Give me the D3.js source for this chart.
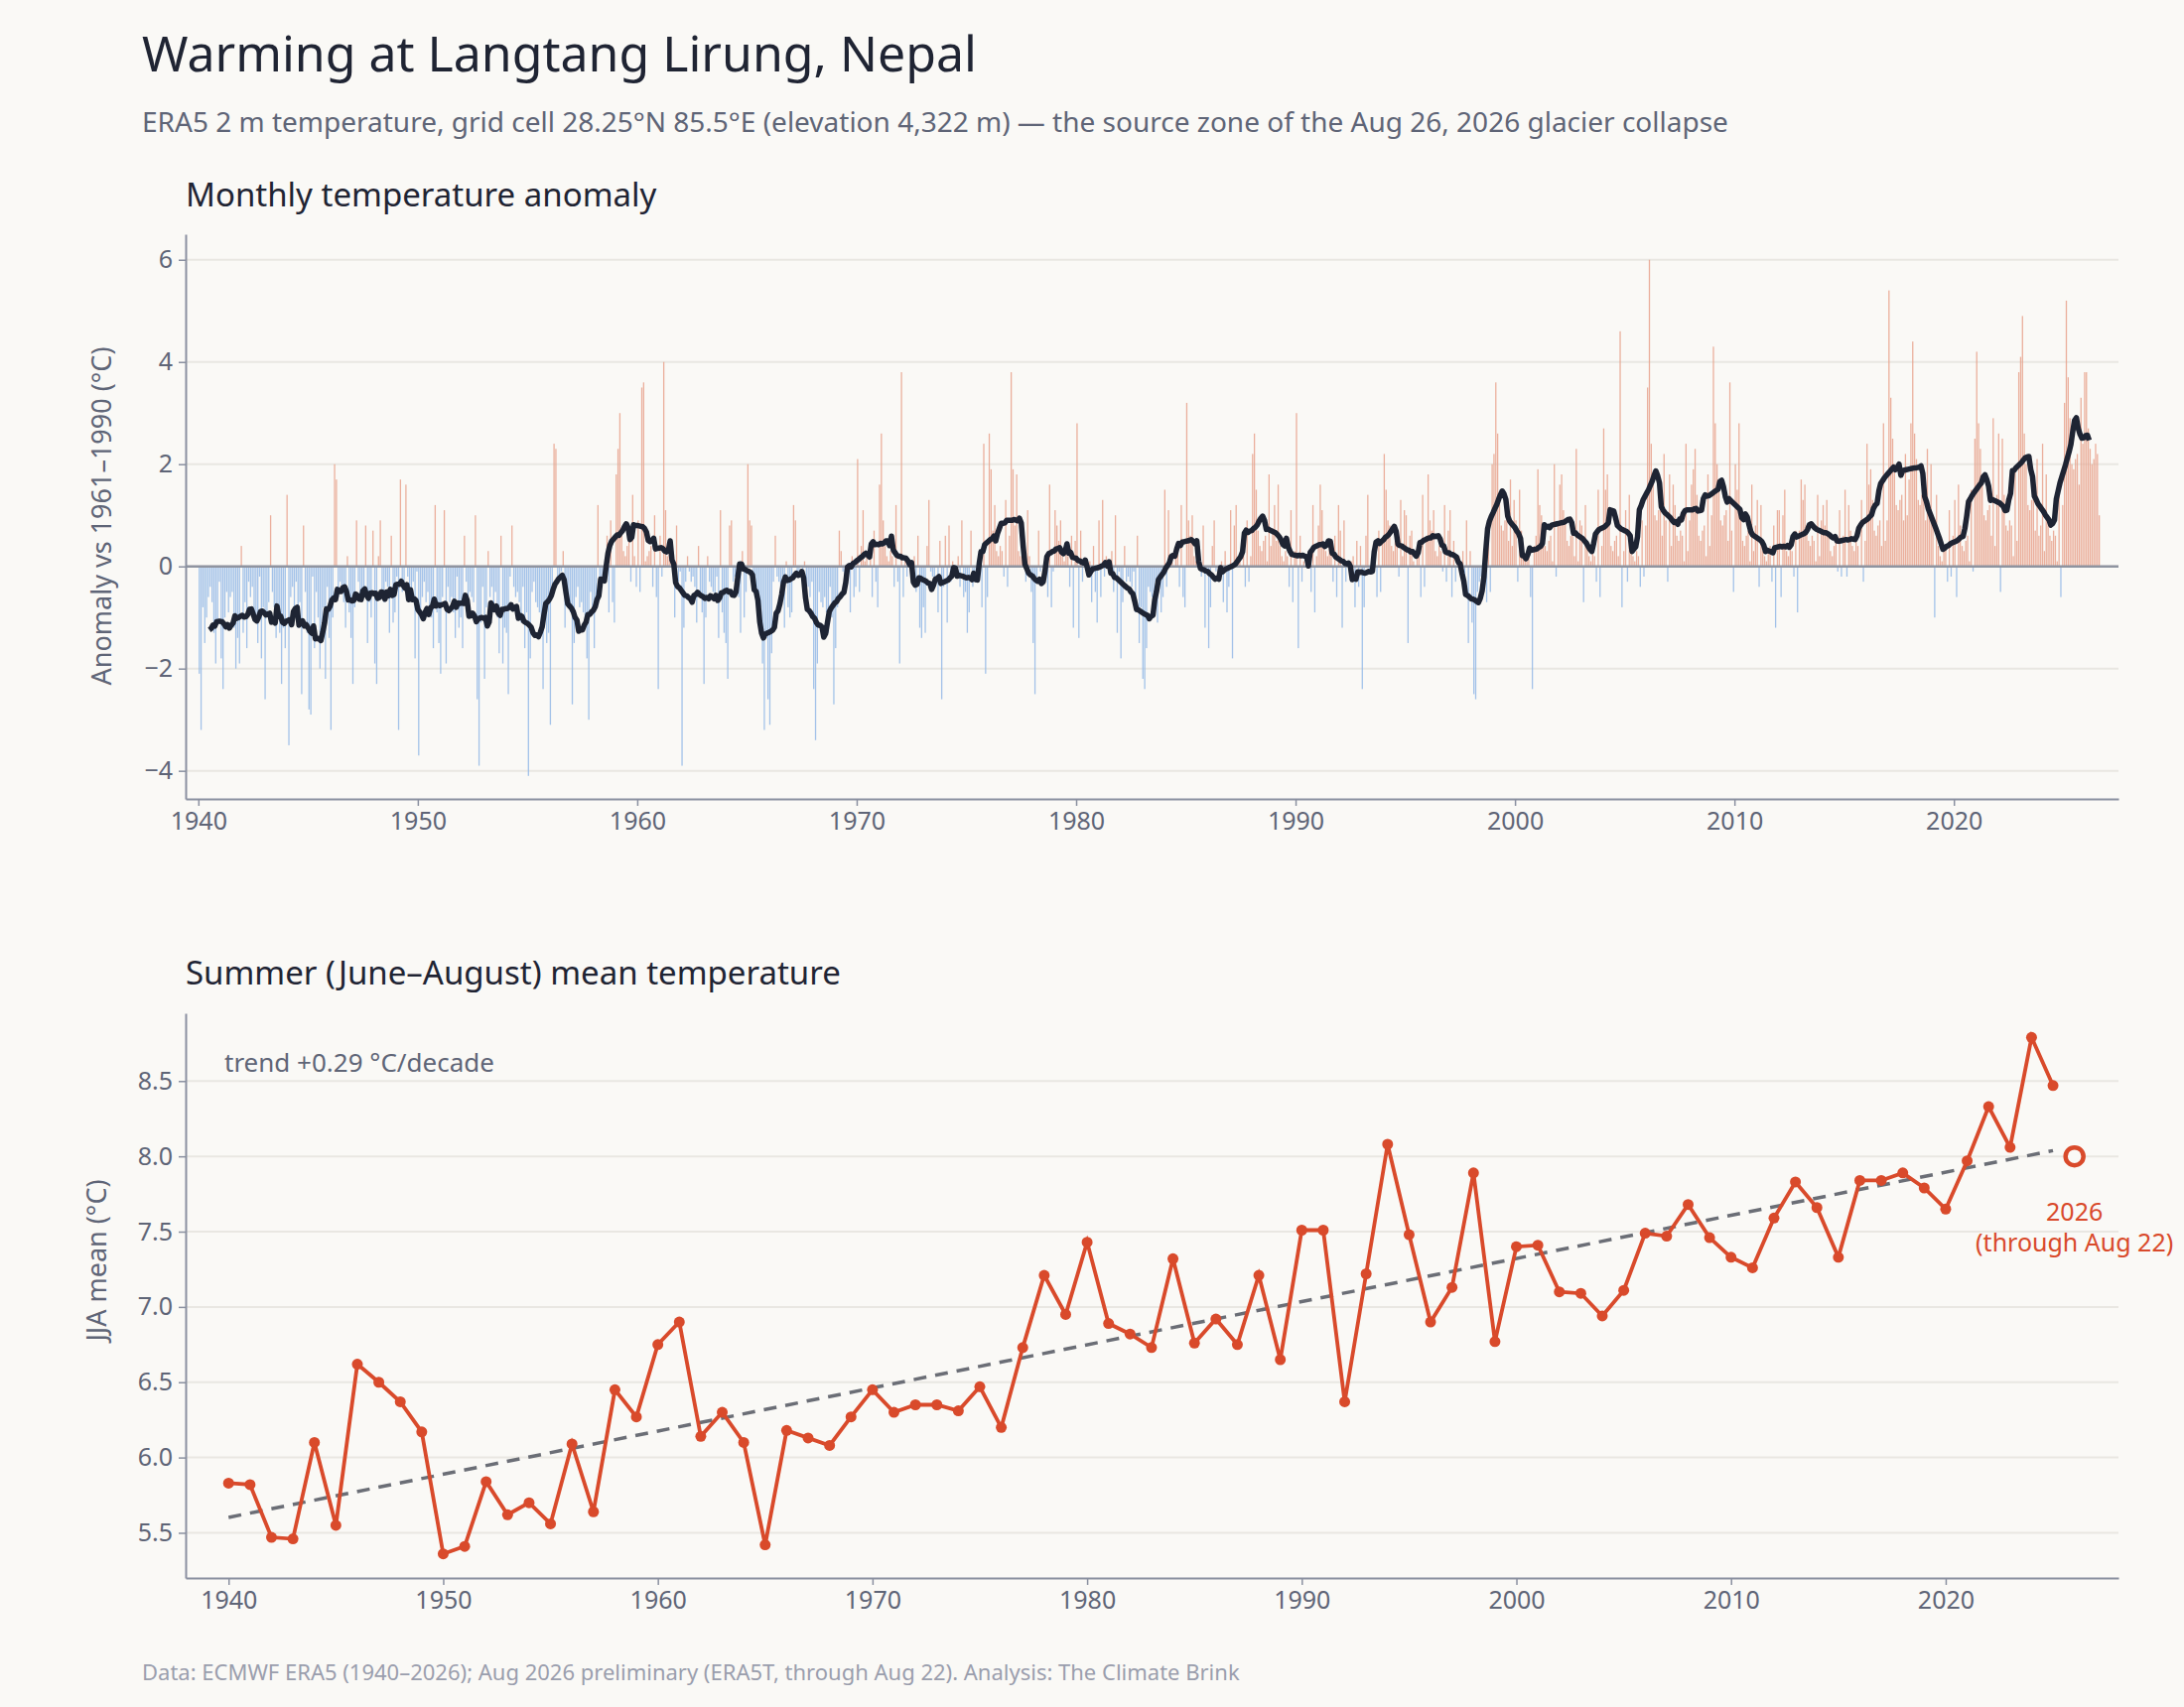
<!DOCTYPE html>
<html lang="en">
<head>
<meta charset="UTF-8">
<title>Warming at Langtang Lirung, Nepal</title>
<script src="https://d3js.org/d3.v7.min.js"></script>
<style>
  body { margin: 0; background: #faf9f6; font-family: "Noto Sans", Roboto, sans-serif; }
  .tick text { fill: #5f6577; font-size: 25px; font-family: "Noto Sans", sans-serif; }
  .tick line { stroke: #8a90a0; stroke-width: 1.5px; }
  .domain { stroke: #8a90a0; stroke-width: 2px; }
</style>
</head>
<body>
<svg width="2200" height="1720"></svg>
<script>
// monthly anomalies vs 1961-1990 (°C), one row per year starting 1940
const anomalyStartYear = 1940;
const monthlyAnomaly = [
  [-2.1,-3.2,-0.8,-1.5,-1.0,-0.6,-0.4,-0.7,-1.3,-1.9,-1.1,-0.3],
  [-1.8,-2.4,-1.0,-0.5,-0.9,-0.6,-0.5,-1.2,-2.0,-1.4,-1.9,0.4],
  [-1.3,-0.7,-1.6,-0.3,-0.6,-0.4,-0.9,-1.1,-1.5,-0.2,-1.8,-0.8],
  [-2.6,-1.0,-0.7,1.0,-0.5,-0.8,-1.4,-0.9,-1.3,-2.3,-1.2,-1.6],
  [1.4,-3.5,-0.6,-0.4,-0.8,-0.3,-1.2,-0.7,-2.5,0.8,-0.5,-1.3],
  [-2.8,-2.9,-0.2,-1.6,-0.5,-1.0,-2.0,-1.2,-0.8,-2.2,-0.4,-1.4],
  [-3.2,-1.0,2.0,1.7,-0.6,-0.3,-0.5,-0.7,-1.2,0.2,-0.9,-1.4],
  [-2.3,-0.8,0.9,-0.3,-0.6,-0.5,-0.4,0.8,-1.5,-0.7,-1.0,0.7],
  [-1.9,-2.3,0.2,0.9,-0.5,-0.7,-0.3,-0.4,-1.3,0.6,-1.1,-0.9],
  [-0.2,-3.2,1.7,-0.5,-0.3,1.6,-0.2,-0.4,-0.6,-0.3,-1.8,-0.1],
  [-3.7,-0.9,-0.6,-0.3,-0.7,-0.5,-0.8,-1.0,-1.6,1.2,-0.9,-1.5],
  [-2.1,-0.6,1.1,-1.9,-0.4,-0.7,-0.6,-0.9,-1.4,-0.2,-1.2,-1.0],
  [-1.6,0.6,-0.3,-0.9,-0.5,-0.6,-0.7,1.0,-2.6,-3.9,-1.1,-0.4],
  [-2.2,-0.8,0.3,-0.6,-0.4,-0.8,-0.5,-1.0,-1.7,0.6,-1.9,-1.2],
  [-1.3,-2.5,-0.2,0.8,-0.4,-0.6,-0.5,-0.7,-1.1,-0.4,-1.6,-0.9],
  [-4.1,-1.8,-0.5,-0.3,-0.7,-0.8,-0.9,-1.2,-2.4,-1.0,-1.5,-1.3],
  [-3.1,-0.5,2.4,2.3,-0.3,-0.2,-0.1,0.3,-1.2,-0.4,-0.8,-0.9],
  [-2.7,-1.5,-0.6,-0.4,-0.8,-0.7,-0.9,-1.1,-1.8,-3.0,-0.5,-0.9],
  [-1.6,-0.8,1.2,-0.4,-0.2,-0.3,-0.1,0.6,-0.9,0.9,-0.7,-1.1],
  [1.8,2.3,3.0,0.6,0.3,0.2,0.4,0.5,-0.3,1.4,0.2,-0.4],
  [0.9,-0.5,3.5,3.6,0.1,0.2,0.3,0.4,-0.4,1.0,-0.6,-2.4],
  [0.6,-0.2,4.0,1.1,0.2,0.3,0.4,0.2,-1.0,0.8,-0.3,-0.1],
  [-3.9,-1.2,-0.3,0.2,-0.1,-0.3,-0.2,-0.4,-1.1,0.4,-0.6,-0.9],
  [-2.3,-1.0,0.2,-0.3,-0.4,-0.5,-0.6,-0.2,-1.4,1.1,-0.9,-1.3],
  [-1.5,-2.2,0.8,0.9,-0.3,-0.2,-0.4,-0.6,-1.3,0.3,-1.0,-0.5],
  [2.0,0.9,0.8,-0.3,-0.4,-0.5,-0.6,-0.8,-1.9,-3.2,-1.4,-2.6],
  [-3.1,-1.7,-0.3,0.6,-0.2,-0.3,-0.4,-0.5,-1.2,0.1,-0.8,-1.0],
  [-0.9,1.2,0.9,-0.2,-0.1,0.0,-0.2,0.1,-0.7,-0.4,-0.6,-0.3],
  [-2.4,-3.4,-1.9,-0.5,-0.7,-0.8,-0.6,-0.9,-1.3,-0.4,-1.0,-2.7],
  [-1.6,-0.8,0.7,0.3,-0.1,-0.2,-0.3,-0.1,-0.9,0.2,-0.6,-0.4],
  [2.1,-0.5,0.4,1.1,0.1,0.2,0.0,0.3,-0.6,0.7,-0.3,-0.8],
  [1.6,2.6,0.9,0.4,0.2,0.1,0.3,0.2,-0.4,1.2,-0.3,-1.9],
  [3.8,-0.6,0.2,-0.2,0.0,0.1,-0.1,0.2,-0.5,0.6,-1.2,-1.4],
  [-0.8,-1.3,0.4,1.3,-0.1,-0.2,-0.3,0.0,-0.9,0.5,-2.6,-0.4],
  [0.6,-1.1,0.8,-0.3,0.1,0.0,-0.1,0.2,-0.4,0.9,-0.6,-0.5],
  [-1.3,-0.9,0.7,-0.4,-0.1,-0.2,0.0,0.1,-0.8,2.4,-2.1,-0.6],
  [2.6,1.9,0.7,1.2,0.3,0.2,0.4,0.3,-0.2,1.3,-0.4,0.6],
  [3.8,1.9,0.8,1.8,0.3,0.2,0.4,0.5,-0.3,1.1,0.2,-0.5],
  [-1.5,-2.5,-0.2,0.7,-0.1,0.0,-0.2,0.1,-0.6,1.6,-0.8,-0.1],
  [1.1,0.8,0.5,0.9,0.2,0.1,0.3,0.2,-0.4,0.6,-1.2,0.5],
  [2.8,-1.4,0.7,-0.3,0.1,0.0,-0.2,0.1,-0.7,0.4,-0.5,-1.1],
  [0.9,-0.6,1.3,-0.2,0.2,0.1,0.0,0.3,-0.5,1.0,-1.3,-0.1],
  [-1.8,-0.7,0.4,-0.3,-0.2,-0.3,-0.4,-0.1,-0.9,0.6,-1.5,-0.8],
  [-2.2,-2.4,-1.6,-0.4,-0.5,-0.6,-0.7,-0.3,-1.1,-0.2,-0.9,-0.6],
  [1.5,-0.4,1.1,0.2,0.1,0.0,0.2,0.3,-0.4,1.2,-0.6,-0.8],
  [3.2,0.9,0.6,1.0,0.2,0.1,0.3,0.4,-0.2,0.8,-1.2,-0.1],
  [-1.6,-0.8,0.4,0.9,-0.1,0.0,-0.2,0.1,-0.7,0.3,-0.9,-0.4],
  [1.1,-1.8,0.8,1.2,0.1,0.2,0.0,0.3,-0.4,0.9,-0.3,0.2],
  [2.2,2.6,1.5,0.7,0.4,0.3,0.5,0.6,0.1,1.8,0.4,0.7],
  [1.2,0.5,1.6,0.4,0.2,0.1,0.3,0.2,-0.4,1.1,-0.7,0.3],
  [3.0,-1.6,0.6,-0.3,0.1,0.0,0.2,0.3,-0.5,1.2,-0.9,0.2],
  [0.8,1.6,1.1,0.4,0.3,0.2,0.4,0.3,-0.3,0.6,-0.6,1.2],
  [0.7,-1.2,0.9,-0.3,0.0,-0.1,0.1,0.2,-0.8,0.5,-0.4,0.4],
  [-2.4,-0.8,0.6,1.4,-0.1,0.0,-0.1,0.1,-0.6,0.7,-0.5,0.5],
  [2.2,1.5,0.9,0.8,0.4,0.3,0.5,0.4,-0.2,1.3,0.2,1.1],
  [1.0,-1.5,0.6,0.7,0.1,0.0,0.2,0.3,-0.6,1.4,-0.4,0.6],
  [1.8,0.9,0.7,1.1,0.3,0.2,0.4,0.3,-0.1,1.2,-0.3,0.7],
  [1.1,-0.6,0.5,-0.3,0.1,0.2,0.0,0.3,-0.4,0.9,-1.5,0.3],
  [-1.1,-2.5,-2.6,-0.5,-0.3,-0.2,-0.1,0.1,-0.7,0.6,-0.5,2.0],
  [2.2,3.6,2.6,1.3,0.8,0.7,0.9,1.0,0.5,1.7,0.4,1.3],
  [0.9,-0.3,1.5,0.7,0.3,0.2,0.1,0.4,-0.6,-2.4,0.4,0.6],
  [1.9,1.2,1.0,0.8,0.4,0.3,0.5,0.6,0.1,2.0,-0.2,0.8],
  [1.6,1.8,1.1,0.9,0.5,0.4,0.6,0.7,0.2,2.3,0.1,0.9],
  [0.8,-0.7,1.2,0.4,0.2,0.1,0.3,0.2,-0.3,1.5,-0.6,0.4],
  [2.7,1.5,1.8,0.9,0.4,0.3,0.5,0.6,0.2,4.6,-0.8,0.3],
  [1.1,-0.3,1.4,0.5,0.2,0.1,0.3,0.2,-0.4,0.9,-0.2,0.8],
  [3.5,6.0,2.4,1.8,1.0,0.9,1.1,1.2,0.6,2.2,0.9,-0.3],
  [1.8,0.4,1.6,1.2,0.6,0.5,0.7,0.6,0.1,2.4,0.3,0.9],
  [1.6,1.9,2.3,1.4,0.6,0.5,0.7,0.8,0.2,1.8,0.4,1.0],
  [4.3,2.8,2.0,1.5,0.9,0.8,1.0,1.1,0.5,3.6,0.7,-0.5],
  [2.0,1.5,2.8,1.0,0.5,0.4,0.6,0.7,0.1,1.6,0.3,0.8],
  [1.3,-0.4,1.2,0.3,0.2,0.1,0.3,0.4,-0.3,0.8,-1.2,1.1],
  [1.1,-0.6,1.0,1.5,0.3,0.2,0.4,0.3,-0.2,0.7,-0.9,0.7],
  [1.7,1.3,1.6,0.8,0.5,0.4,0.6,0.5,0.1,1.4,0.2,0.9],
  [1.2,0.8,1.3,0.6,0.3,0.2,0.4,0.5,-0.1,1.1,-0.2,0.6],
  [1.5,-0.2,1.2,0.7,0.4,0.3,0.5,0.4,0.0,1.3,-0.3,0.5],
  [2.4,1.6,1.9,1.3,0.7,0.6,0.8,0.9,0.4,2.8,0.5,0.9],
  [5.4,3.3,2.5,2.0,1.2,1.1,1.3,1.4,0.9,2.2,1.0,1.7],
  [2.8,4.4,2.6,2.1,1.3,1.2,1.4,1.5,0.9,2.3,1.1,2.0],
  [1.0,-1.0,1.4,0.4,0.2,0.1,0.3,0.4,-0.3,1.1,-0.2,0.6],
  [1.3,-0.6,1.6,0.8,0.4,0.3,0.5,0.6,0.1,1.5,-0.1,2.5],
  [4.2,2.8,2.3,1.6,1.0,0.9,1.1,1.2,0.6,2.9,0.4,1.4],
  [2.6,-0.5,2.5,1.4,0.8,0.7,0.9,0.8,0.2,1.9,0.5,3.8],
  [4.1,4.9,2.6,2.0,1.2,1.1,1.3,1.4,0.7,2.1,0.6,0.8],
  [2.4,0.3,1.8,1.0,0.6,0.5,0.7,0.6,0.1,1.5,-0.6,1.2],
  [3.2,5.2,3.7,2.9,2.0,1.9,2.1,2.2,1.6,3.3,2.4,3.8],
  [3.8,2.7,2.3,2.0,2.1,2.4,2.2,1.0]
];

// summer (JJA) mean temperature, °C
const jjaYears = d3.range(1940, 2026);
const jjaValues = [
  5.83,5.82,5.47,5.46,6.10,5.55,6.62,6.50,6.37,6.17,
  5.36,5.41,5.84,5.62,5.70,5.56,6.09,5.64,6.45,6.27,
  6.75,6.90,6.14,6.30,6.10,5.42,6.18,6.13,6.08,6.27,
  6.45,6.30,6.35,6.35,6.31,6.47,6.20,6.73,7.21,6.95,
  7.43,6.89,6.82,6.73,7.32,6.76,6.92,6.75,7.21,6.65,
  7.51,7.51,6.37,7.22,8.08,7.48,6.90,7.13,7.89,6.77,
  7.40,7.41,7.10,7.09,6.94,7.11,7.49,7.47,7.68,7.46,
  7.33,7.26,7.59,7.83,7.66,7.33,7.84,7.84,7.89,7.79,
  7.65,7.97,8.33,8.06,8.79,8.47
];
const partialYear = 2026, partialValue = 8.00;

const anomalyTicks = [-4, -2, 0, 2, 4, 6];
const jjaTicks = [5.5, 6.0, 6.5, 7.0, 7.5, 8.0, 8.5];
const yearTicks = d3.range(1940, 2021, 10);

const svg = d3.select("svg");
const textDark = "#1f2433", textMid = "#5f6577", gridCol = "#e9e7e2";

svg.append("rect").attr("width", 2200).attr("height", 1720).attr("fill", "#faf9f6");

svg.append("text").attr("x", 143).attr("y", 72)
  .style("font-size", "50px").attr("fill", textDark)
  .text("Warming at Langtang Lirung, Nepal");
svg.append("text").attr("x", 143).attr("y", 133)
  .style("font-size", "28px").attr("fill", textMid)
  .text("ERA5 2 m temperature, grid cell 28.25°N 85.5°E (elevation 4,322 m) — the source zone of the Aug 26, 2026 glacier collapse");

const left = 187, right = 2134;

// ---------- panel 1: monthly anomaly ----------
const months = [];
monthlyAnomaly.forEach((row, yi) => row.forEach((v, m) => {
  months.push({ t: anomalyStartYear + yi + (m + 0.5) / 12, v: v });
}));
// 12-month centred running mean
const smooth = [];
for (let i = 6; i + 6 <= months.length; i++) {
  smooth.push({ t: months[i].t - 1 / 24, v: d3.mean(months.slice(i - 6, i + 6), d => d.v) });
}

const x1 = d3.scaleLinear().domain([1939.42, 2027.5]).range([left, right]);
const y1 = d3.scaleLinear().domain([-4.55, 6.5]).range([805, 236]);

svg.append("text").attr("x", 187).attr("y", 208)
  .style("font-size", "33px").attr("fill", textDark).text("Monthly temperature anomaly");

const g1 = svg.append("g");
g1.selectAll(".grid").data(anomalyTicks).enter().append("line")
  .attr("x1", left).attr("x2", right).attr("y1", d => y1(d)).attr("y2", d => y1(d))
  .attr("stroke", gridCol).attr("stroke-width", 2);

const bw = (x1(1 / 12) - x1(0)) * 0.7;
g1.selectAll(".bar").data(months).enter().append("rect")
  .attr("x", d => x1(d.t) - bw / 2).attr("width", bw)
  .attr("y", d => y1(Math.max(0, d.v)))
  .attr("height", d => Math.abs(y1(d.v) - y1(0)))
  .attr("fill", d => d.v >= 0 ? "#e7a28c" : "#93b8e6")
  .attr("opacity", 0.85);

g1.append("line").attr("x1", left).attr("x2", right)
  .attr("y1", y1(0)).attr("y2", y1(0)).attr("stroke", "#8f94a0").attr("stroke-width", 2.5);

g1.append("path").datum(smooth)
  .attr("fill", "none").attr("stroke", "#1e2433").attr("stroke-width", 5.5)
  .attr("stroke-linejoin", "round")
  .attr("d", d3.line().x(d => x1(d.t)).y(d => y1(d.v)));

svg.append("g").attr("transform", "translate(0,805)")
  .call(d3.axisBottom(x1).tickValues(yearTicks).tickFormat(d3.format("d")).tickSize(7).tickSizeOuter(0).tickPadding(6));
svg.append("g").attr("transform", `translate(${left},0)`)
  .call(d3.axisLeft(y1).tickValues(anomalyTicks).tickFormat(d => d < 0 ? "−" + Math.abs(d) : d).tickSize(7).tickSizeOuter(0).tickPadding(6));

svg.append("text").attr("transform", "translate(112,520) rotate(-90)")
  .attr("text-anchor", "middle").style("font-size", "27px").attr("fill", textMid)
  .text("Anomaly vs 1961–1990 (°C)");

// ---------- panel 2: JJA mean ----------
const x2 = d3.scaleLinear().domain([1938.0, 2028.05]).range([left, right]);
const y2 = d3.scaleLinear().domain([5.2, 8.95]).range([1590, 1021]);
const jja = jjaYears.map((yr, i) => ({ yr: yr, v: jjaValues[i] }));

svg.append("text").attr("x", 187).attr("y", 992)
  .style("font-size", "33px").attr("fill", textDark).text("Summer (June–August) mean temperature");

const g2 = svg.append("g");
g2.selectAll(".grid").data(jjaTicks).enter().append("line")
  .attr("x1", left).attr("x2", right).attr("y1", d => y2(d)).attr("y2", d => y2(d))
  .attr("stroke", gridCol).attr("stroke-width", 2);

// least-squares trend over complete summers
const mx = d3.mean(jja, d => d.yr), my = d3.mean(jja, d => d.v);
const slope = d3.sum(jja, d => (d.yr - mx) * (d.v - my)) / d3.sum(jja, d => (d.yr - mx) ** 2);
const trendAt = yr => my + slope * (yr - mx);
g2.append("line")
  .attr("x1", x2(1940)).attr("y1", y2(trendAt(1940)))
  .attr("x2", x2(2025)).attr("y2", y2(trendAt(2025)))
  .attr("stroke", "#6b6e76").attr("stroke-width", 3.5).attr("stroke-dasharray", "13,9");

g2.append("path").datum(jja)
  .attr("fill", "none").attr("stroke", "#d94a2b").attr("stroke-width", 3.8)
  .attr("d", d3.line().x(d => x2(d.yr)).y(d => y2(d.v)));
g2.selectAll(".dot").data(jja).enter().append("circle")
  .attr("cx", d => x2(d.yr)).attr("cy", d => y2(d.v)).attr("r", 5.5).attr("fill", "#d94a2b");

g2.append("circle").attr("cx", x2(partialYear)).attr("cy", y2(partialValue)).attr("r", 9)
  .attr("fill", "#faf9f6").attr("stroke", "#d94a2b").attr("stroke-width", 4.5);
g2.append("text").attr("x", x2(partialYear)).attr("y", y2(partialValue) + 65)
  .attr("text-anchor", "middle").style("font-size", "25px").attr("fill", "#d94a2b").text(partialYear);
g2.append("text").attr("x", x2(partialYear)).attr("y", y2(partialValue) + 96)
  .attr("text-anchor", "middle").style("font-size", "25px").attr("fill", "#d94a2b").text("(through Aug 22)");

g2.append("text").attr("x", 226).attr("y", 1080)
  .style("font-size", "26px").attr("fill", textMid)
  .text(`trend +${(slope * 10).toFixed(2)} °C/decade`);

svg.append("g").attr("transform", "translate(0,1590)")
  .call(d3.axisBottom(x2).tickValues(yearTicks).tickFormat(d3.format("d")).tickSize(7).tickSizeOuter(0).tickPadding(6));
svg.append("g").attr("transform", `translate(${left},0)`)
  .call(d3.axisLeft(y2).tickValues(jjaTicks).tickFormat(d3.format(".1f")).tickSize(7).tickSizeOuter(0).tickPadding(6));

svg.append("text").attr("transform", "translate(107,1270) rotate(-90)")
  .attr("text-anchor", "middle").style("font-size", "27px").attr("fill", textMid)
  .text("JJA mean (°C)");

svg.append("text").attr("x", 143).attr("y", 1693)
  .style("font-size", "22px").attr("fill", "#9a9ead")
  .text("Data: ECMWF ERA5 (1940–2026); Aug 2026 preliminary (ERA5T, through Aug 22). Analysis: The Climate Brink");
</script>
</body>
</html>
